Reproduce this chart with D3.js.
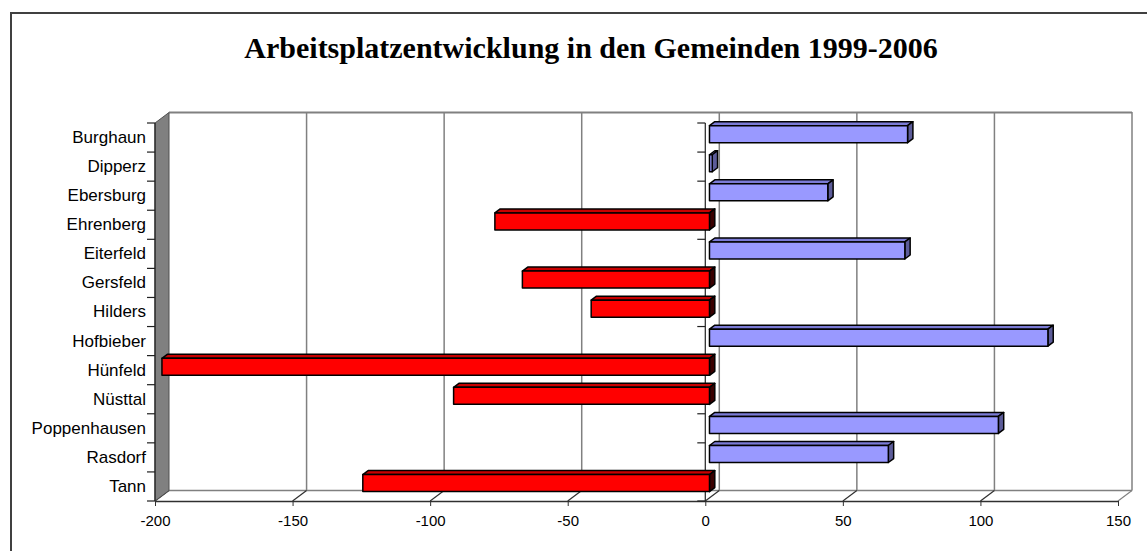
<!DOCTYPE html>
<html lang="de">
<head>
  <meta charset="UTF-8">
  <title>Arbeitsplatzentwicklung</title>
  <script src="https://cdn.jsdelivr.net/npm/d3@7"></script>
  <style>
    body { margin: 0; background: #fff; }
    svg { display: block; }
  </style>
</head>
<body>
  <svg id="chart" width="1147" height="551"></svg>
  <script>
  // data
  const categories = ['Burghaun', 'Dipperz', 'Ebersburg', 'Ehrenberg', 'Eiterfeld', 'Gersfeld', 'Hilders',
    'Hofbieber', 'Hünfeld', 'Nüsttal', 'Poppenhausen', 'Rasdorf', 'Tann'];
  const values = [72, 1, 43, -78, 71, -68, -43, 123, -199, -93, 105, 65, -126];
  const valueTicks = [-200, -150, -100, -50, 0, 50, 100, 150];
  const title = 'Arbeitsplatzentwicklung in den Gemeinden 1999-2006';

  const svg = d3.select('#chart');

  // front plane scales
  const x = d3.scaleLinear().domain([-200, 150]).range([155, 1118]);
  const y = d3.scaleBand().domain(categories).range([123, 501]);
  // 3d depth offset (front -> back)
  const DX = 14, DY = -10.5;
  const off = d => [DX * d, DY * d];

  const yTop = y.range()[0], yBottom = y.range()[1];
  const xLeft = x.range()[0], xRight = x.range()[1];

  // outer frame
  svg.append('rect')
    .attr('x', 11).attr('y', 13).attr('width', 1160).attr('height', 560)
    .attr('fill', 'none').attr('stroke', '#404040').attr('stroke-width', 2);

  // title
  svg.append('text')
    .attr('x', 591).attr('y', 58)
    .attr('text-anchor', 'middle')
    .attr('font-family', '"Liberation Serif", "Times New Roman", serif')
    .attr('font-weight', 'bold')
    .attr('font-size', 30)
    .text(title);

  const grey = '#808080';

  // back wall gridlines
  const grid = svg.append('g');
  valueTicks.filter(v => v > -200).forEach(v => {
    grid.append('line')
      .attr('x1', x(v) + DX).attr('x2', x(v) + DX)
      .attr('y1', yTop + DY - 0.5).attr('y2', yBottom + DY)
      .attr('stroke', grey).attr('stroke-width', 1.5);
  });
  grid.append('line')
    .attr('x1', xLeft + DX).attr('x2', xRight + DX)
    .attr('y1', yTop + DY).attr('y2', yTop + DY)
    .attr('stroke', grey).attr('stroke-width', 2);

  // floor
  const floor = svg.append('g');
  floor.append('line')
    .attr('x1', xLeft + DX).attr('x2', xRight + DX)
    .attr('y1', yBottom + DY).attr('y2', yBottom + DY)
    .attr('stroke', grey).attr('stroke-width', 1.5);
  valueTicks.forEach(v => {
    floor.append('line')
      .attr('x1', x(v)).attr('y1', yBottom)
      .attr('x2', x(v) + DX).attr('y2', yBottom + DY)
      .attr('stroke', v === 150 ? grey : '#303030').attr('stroke-width', 1.2);
  });

  // left wall
  svg.append('path')
    .attr('d', `M${xLeft},${yTop} L${xLeft + DX},${yTop + DY} L${xLeft + DX},${yBottom + DY} L${xLeft},${yBottom} Z`)
    .attr('fill', grey).attr('stroke', '#505050').attr('stroke-width', 1);

  // value axis on the front edge of the floor
  const xAxis = svg.append('g')
    .attr('transform', `translate(0,${yBottom})`)
    .call(d3.axisBottom(x).tickValues(valueTicks).tickFormat(d => String(d))
      .tickSize(5).tickSizeOuter(0).tickPadding(9));
  xAxis.select('.domain').attr('stroke', '#303030').attr('stroke-width', 1.5);
  xAxis.selectAll('.tick line').attr('stroke', '#303030');
  xAxis.selectAll('text')
    .attr('font-family', '"Liberation Sans", Arial, sans-serif')
    .attr('font-size', 15).attr('fill', '#000');

  // category labels
  const yAxis = svg.append('g')
    .attr('transform', `translate(${xLeft},0)`)
    .call(d3.axisLeft(y).tickSize(0).tickPadding(9));
  yAxis.select('.domain').remove();
  yAxis.selectAll('text')
    .attr('font-family', '"Liberation Sans", Arial, sans-serif')
    .attr('font-size', 17).attr('fill', '#000');

  // category ticks at band boundaries, on the wall edge and at zero
  const bounds = d3.range(categories.length + 1).map(i => yTop + i * y.step());
  [xLeft, x(0)].forEach(ax => {
    svg.append('line')
      .attr('x1', ax).attr('x2', ax).attr('y1', yTop).attr('y2', yBottom)
      .attr('stroke', '#202020').attr('stroke-width', 1.2);
    svg.append('g').selectAll('line').data(bounds).join('line')
      .attr('x1', ax - 8).attr('x2', ax)
      .attr('y1', d => d).attr('y2', d => d)
      .attr('stroke', '#202020').attr('stroke-width', 1.2);
  });

  // 3d bars
  const [fx, fy] = off(0.3);
  const [bx, by] = off(0.68);
  const inset = y.bandwidth() * 0.2;
  const barH = y.bandwidth() * 0.585;

  const bars = svg.append('g').selectAll('g')
    .data(categories.map((c, i) => ({ c, v: values[i] })))
    .join('g');

  bars.each(function (d) {
    const g = d3.select(this);
    const l = Math.min(x(0), x(d.v)), r = Math.max(x(0), x(d.v));
    const t = y(d.c) + inset, b = t + barH;
    const pos = d.v >= 0;
    const cFront = pos ? '#9999ff' : '#ff0000';
    const cTop = pos ? '#7b7bd6' : '#c80000';
    const cSide = pos ? '#5c5c99' : '#3a0000';
    g.append('path')
      .attr('d', `M${l + fx},${t + fy} L${r + fx},${t + fy} L${r + bx},${t + by} L${l + bx},${t + by} Z`)
      .attr('fill', cTop);
    g.append('path')
      .attr('d', `M${r + fx},${t + fy} L${r + bx},${t + by} L${r + bx},${b + by} L${r + fx},${b + fy} Z`)
      .attr('fill', cSide);
    g.append('rect')
      .attr('x', l + fx).attr('y', t + fy)
      .attr('width', r - l).attr('height', barH)
      .attr('fill', cFront);
    g.selectAll('path, rect')
      .attr('stroke', '#000').attr('stroke-width', 1.5).attr('stroke-linejoin', 'round');
  });
  </script>
</body>
</html>
